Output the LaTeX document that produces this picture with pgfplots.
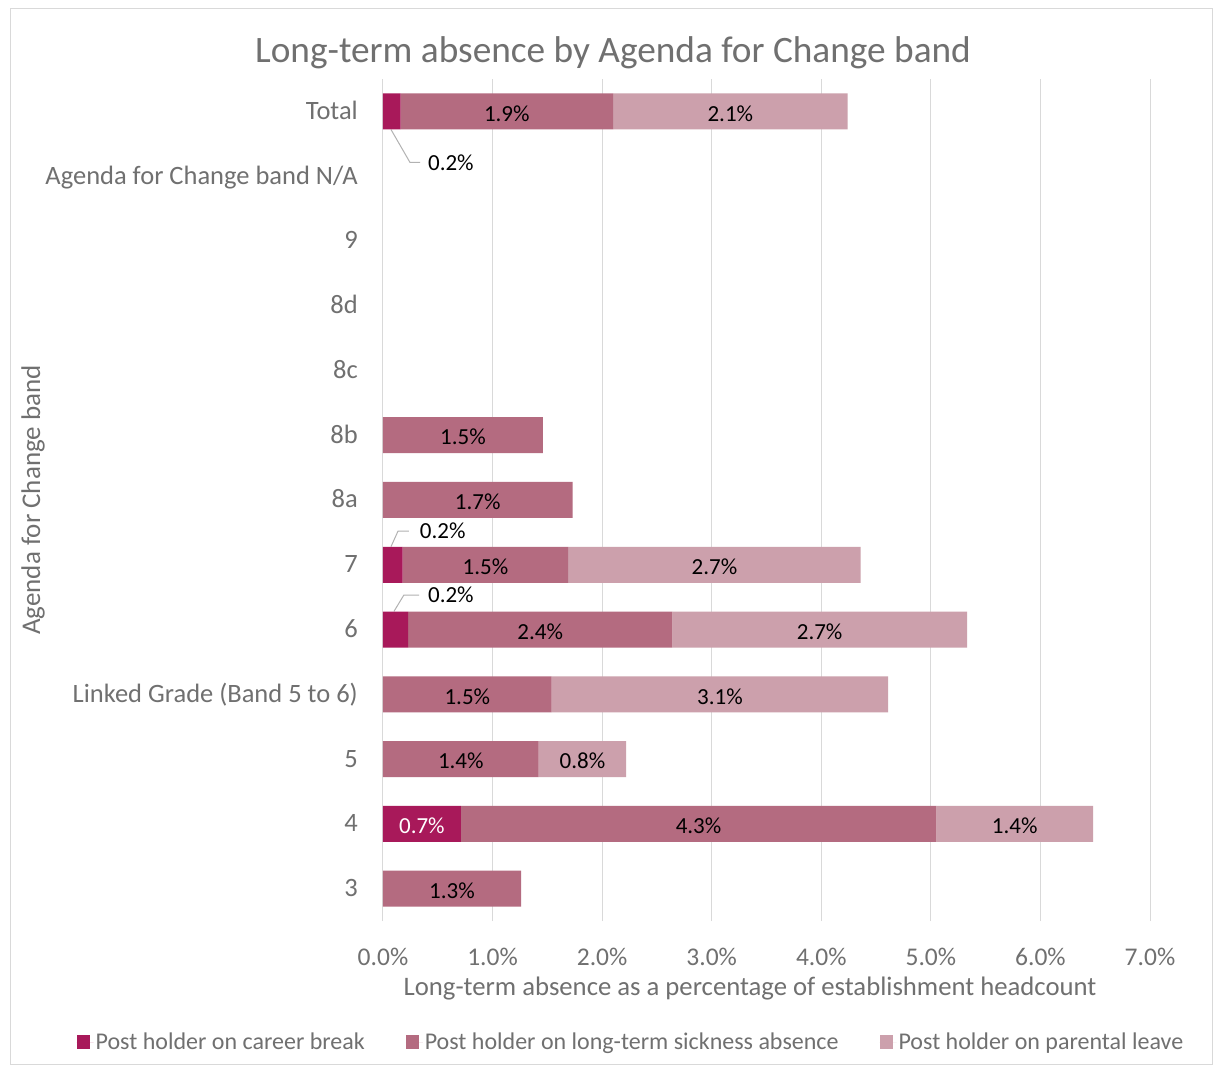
\documentclass[border=0pt]{standalone}
\usepackage{pgfplots}
\pgfplotsset{compat=1.18}
\usepackage{pgfplotstable}
\usepackage{fontspec}
\setmainfont{Carlito}
\definecolor{cbc}{HTML}{A8195A}
\definecolor{skc}{HTML}{B46B80}
\definecolor{prc}{HTML}{CCA0AC}
\definecolor{txt}{HTML}{707070}
\definecolor{grd}{HTML}{D9D9D9}
\pgfplotstableread{
y cb sick par
0 0 1.26 0
1 0.71 4.34 1.43
2 0 1.42 0.80
3 0 1.54 3.07
4 0.23 2.41 2.69
5 0.18 1.51 2.67
6 0 1.73 0
7 0 1.46 0
8 0 0 0
9 0 0 0
10 0 0 0
11 0 0 0
12 0.16 1.94 2.14
}\data
\newcommand{\pct}[1]{\pgfmathprintnumber[assume math mode=true,fixed,fixed zerofill,precision=1]{#1}\%}
\newcommand{\nzlabel}{\pgfmathfloatparsenumber{\pgfplotspointmeta}\pgfmathfloatifflags{\pgfmathresult}{0}{}{\pct{\pgfplotspointmeta}}}
\newcommand{\biglabel}{\pgfmathfloatparsenumber{\pgfplotspointmeta}\let\mval\pgfmathresult\pgfmathfloatparsenumber{0.5}\pgfmathfloatlessthan{\pgfmathresult}{\mval}\ifpgfmathfloatcomparison\color{white}\pct{\pgfplotspointmeta}\fi}
\begin{document}
\begin{tikzpicture}
\fill[white] (-383bp,-145bp) rectangle (831bp,921bp);
\draw[grd, line width=0.8bp] (-373bp,-143bp) rectangle (829bp,913bp);
\begin{axis}[
  scale only axis, width=767bp, height=842bp,
  xbar stacked, bar width=36bp,
  xmin=0, xmax=7, ymin=-0.5, ymax=12.5,
  axis line style={draw=none},
  tick style={draw=none},
  xmajorgrids, grid style={grd, line width=1bp},
  xtick={0,...,7},
  xticklabel={\pct{\tick}},
  x tick label style={font=\fontsize{25.5bp}{30bp}\selectfont, text=txt, anchor=base, yshift=-44bp, inner sep=0pt},
  ytick={0,...,12},
  yticklabels={3,4,5,Linked Grade (Band 5 to 6),6,7,8a,8b,8c,8d,9,Agenda for Change band N/A,Total},
  y tick label style={font=\fontsize{26.5bp}{30bp}\selectfont, text=txt, anchor=base east, inner sep=0pt, xshift=-25bp, yshift=-8bp},
  legend columns=3,
  legend style={at={(0.3233,-0.1437)}, anchor=center, draw=none, fill=none,
    font=\fontsize{24bp}{28bp}\selectfont, text=txt,
    /tikz/every even column/.append style={column sep=39bp}},
  legend image code/.code={\path (0bp,0bp) -- (17bp,0bp);\fill[#1] (0bp,-7bp) rectangle (13bp,7bp);},
  every node near coord/.style={anchor=center, yshift=-2bp, font=\fontsize{23bp}{28bp}\selectfont, text=black},
  point meta=explicit,
]
\addplot[fill=cbc, draw=none, nodes near coords={\biglabel}]
  table[x=cb, y=y, meta=cb]{\data};
\addlegendentry{Post holder on career break}
\addplot[fill=skc, draw=none, nodes near coords={\nzlabel}]
  table[x=sick, y=y, meta=sick]{\data};
\addlegendentry{Post holder on long-term sickness absence}
\addplot[fill=prc, draw=none, nodes near coords={\nzlabel}]
  table[x=par, y=y, meta=par]{\data};
\addlegendentry{Post holder on parental leave}
\draw[gray!60, line width=1bp] (axis cs:0.073,11.72) -- (axis cs:0.246,11.213) -- (axis cs:0.338,11.213);
\draw[gray!60, line width=1bp] (axis cs:0.073,5.28) -- (axis cs:0.137,5.519) -- (axis cs:0.237,5.519);
\draw[gray!60, line width=1bp] (axis cs:0.10,4.28) -- (axis cs:0.19,4.531) -- (axis cs:0.33,4.531);
\node[anchor=west, inner sep=0pt, font=\fontsize{23bp}{28bp}\selectfont] at (axis cs:0.41,11.213) {0.2\%};
\node[anchor=west, inner sep=0pt, font=\fontsize{23bp}{28bp}\selectfont] at (axis cs:0.335,5.519) {0.2\%};
\node[anchor=west, inner sep=0pt, font=\fontsize{23bp}{28bp}\selectfont] at (axis cs:0.41,4.531) {0.2\%};
\end{axis}
\node[text=txt, font=\fontsize{37.3bp}{44bp}\selectfont] at (230bp,868bp) {Long-term absence by Agenda for Change band};
\node[text=txt, font=\fontsize{26.7bp}{32bp}\selectfont] at (367bp,-68bp) {Long-term absence as a percentage of establishment headcount};
\node[text=txt, font=\fontsize{27bp}{32bp}\selectfont, rotate=90] at (-350bp,421bp) {Agenda for Change band};
\pgfresetboundingbox
\path[use as bounding box] (-383bp,-145bp) rectangle (831bp,921bp);
\end{tikzpicture}
\end{document}
